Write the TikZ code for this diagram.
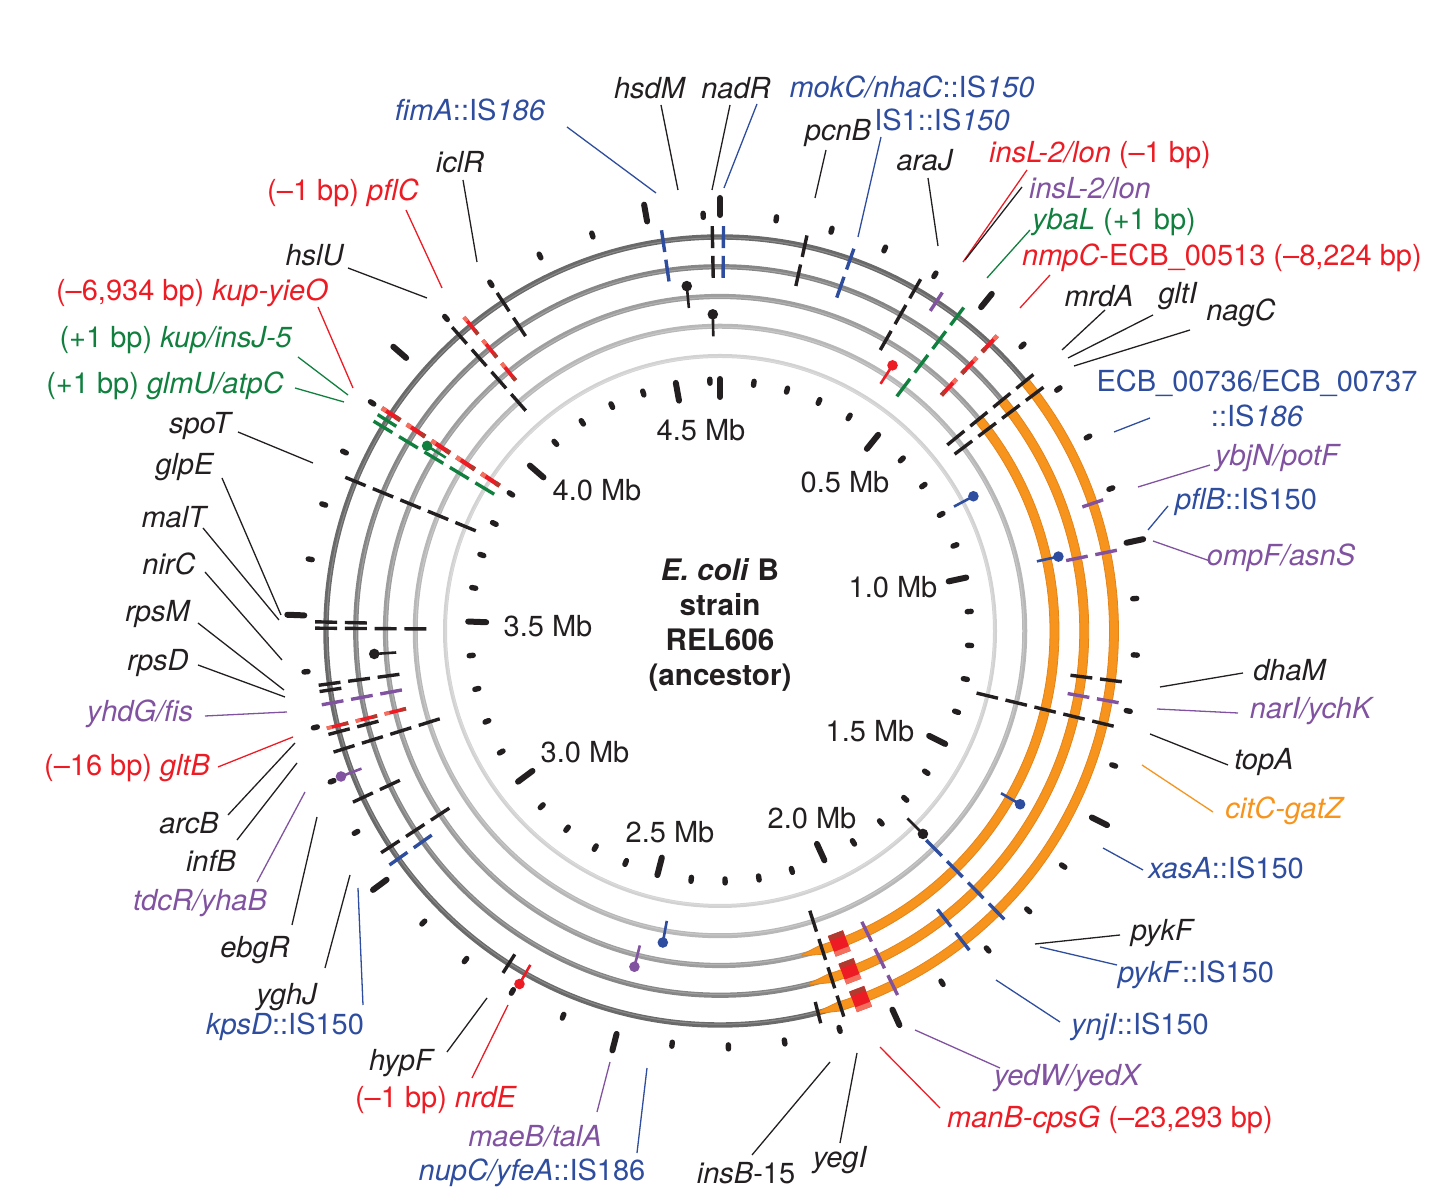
\documentclass[tikz,border=0pt]{standalone}
\usepackage{fontspec}
\setmainfont{TeX Gyre Heros}

\definecolor{genblack}{HTML}{231F20}
\definecolor{genblue}{HTML}{2E4D9E}
\definecolor{genpurple}{HTML}{8052A0}
\definecolor{genred}{HTML}{ED1C24}
\definecolor{gengreen}{HTML}{11803F}
\definecolor{genorange}{HTML}{F7941D}
\definecolor{orangeedge}{HTML}{E3841A}
\definecolor{delinner}{HTML}{B13A2F}
\definecolor{delouter}{HTML}{F4705E}
\definecolor{ringa}{HTML}{6A6A6A}
\definecolor{ringb}{HTML}{868686}
\definecolor{ringc}{HTML}{9E9E9E}
\definecolor{ringd}{HTML}{B8B8B8}
\definecolor{ringe}{HTML}{D2D2D2}

\tikzstyle{lbl} = [font=\fontsize{14.5}{17.5}\selectfont, inner sep=0pt, color=genblack]
\tikzstyle{leadline} = [line width=0.65pt]
\tikzstyle{mutline} = [line width=1.7pt]
\tikzstyle{lolline} = [line width=1.3pt]
\tikzstyle{mbtick} = [line width=3pt, line cap=round, genblack]
\tikzstyle{mbdot} = [line width=2.7pt, line cap=round, genblack]

% dashes on rings 1..#3 : colour, angle (clockwise from top), rings
\newcommand{\mutdash}[3]{%
  \foreach \ri in {1,...,#3} {%
    \pgfmathsetmacro{\rr}{423.75-29.75*\ri}%
    \draw[mutline, #1] ({90-(#2)}:{\rr-11}) -- ({90-(#2)}:{\rr+11});
  }%
}
% deletions: angle, rings, width
\newcommand{\deldash}[3]{%
  \foreach \ri in {1,...,#2} {%
    \pgfmathsetmacro{\rr}{423.75-29.75*\ri}%
    \draw[genred, line width=#3] ({90-(#1)}:{\rr-11}) -- ({90-(#1)}:{\rr+11});
    \draw[delouter, line width=#3] ({90-(#1)}:{\rr+6}) -- ({90-(#1)}:{\rr+11});
    \draw[delinner, line width=#3] ({90-(#1)}:{\rr-11}) -- ({90-(#1)}:{\rr-6});
  }%
}
% single ring marks: colour, angle, ring
\newcommand{\lollipop}[3]{%
  \pgfmathsetmacro{\rr}{423.75-29.75*#3}%
  \draw[lolline, #1] ({90-(#2)}:{\rr-10}) -- ({90-(#2)}:{\rr+12});
  \fill[#1] ({90-(#2)}:{\rr+12}) circle[radius=5.3];
}

\begin{document}
\begin{tikzpicture}[x=0.5pt, y=0.5pt]
  \useasboundingbox (-720,-571) rectangle (734,631);
  \coordinate (ctr) at (0,0);

  % rings
  \foreach \ri/\col/\w in {1/ringa/2.7pt, 2/ringb/2.6pt, 3/ringc/2.6pt, 4/ringd/2.5pt, 5/ringe/2pt} {
    \pgfmathsetmacro{\rr}{423.75-29.75*\ri}
    \draw[\col, line width=\w] (ctr) circle[radius=\rr];
    \draw[white, opacity=0.22, line width=0.5pt] (ctr) circle[radius=\rr-0.8];
  }

  % citC-gatZ inversion
  \foreach \ri in {1,2,3} {
    \pgfmathsetmacro{\rr}{423.75-29.75*\ri}
    \fill[genorange, draw=orangeedge, line width=0.4pt] (39.3:{\rr+4.5})
      arc[start angle=39.3, end angle=-72.5, radius={\rr+4.5}]
      -- (-75.8:{\rr+0.6}) -- (-75.8:{\rr-0.6}) -- (-72.5:{\rr-4.5})
      arc[start angle=-72.5, end angle=39.3, radius={\rr-4.5}] -- cycle;
  }

  % scale ticks, every 0.1 Mb
  \foreach \i in {0,...,46} {
    \pgfmathsetmacro{\a}{90-\i*7.7757}
    \pgfmathtruncatemacro{\m}{mod(\i,5)}
    \ifnum\m=0
      \draw[mbtick] (\a:416) -- (\a:433);
      \draw[mbtick] (\a:234) -- (\a:252);
    \else
      \draw[mbdot] (\a:414) -- (\a:418);
      \draw[mbdot] (\a:248) -- (\a:252);
    \fi
  }
  \foreach \t/\x/\y [count=\j] in {0.5/125/149, 1.0/173/44, 1.5/150/-100, 2.0/92/-187,
      2.5/-50/-201, 3.0/-135/-121, 3.5/-172/5, 4.0/-123/141, 4.5/-19/201} {
    \node[lbl] (mb\j) at (\x,\y) {\t\ Mb};
  }

  \node[lbl, font=\fontsize{14.8}{17.4}\selectfont\bfseries, align=center] (strain) at (0,6)
    {\textit{E. coli} B\\strain\\REL606\\(ancestor)};

  % mutations
  \mutdash{genblue}{351.7}{2}
  \lollipop{genblack}{354.5}{3}
  \mutdash{genblack}{358.9}{2}
  \lollipop{genblack}{358.7}{4}
  \mutdash{genblue}{0.5}{2}
  \mutdash{genblack}{12.4}{2}
  \mutdash{genblue}{19.3}{2}
  \mutdash{genblack}{29.7}{3}
  \lollipop{genred}{33}{4}
  \mutdash{genpurple}{33.3}{1}
  \mutdash{gengreen}{37}{4}
  \deldash{43.2}{3}{2.1pt}
  \mutdash{genblack}{50.7}{4}
  \mutdash{genblack}{53}{4}
  \lollipop{genblue}{62}{5}
  \mutdash{genpurple}{71.1}{1}
  \lollipop{genblue}{77.6}{3}
  \mutdash{genpurple}{78.5}{2}
  \mutdash{genblack}{97.2}{2}
  \mutdash{genpurple}{100.2}{2}
  \mutdash{genblack}{103.6}{5}
  \lollipop{genblue}{120}{3}
  \lollipop{genblack}{135}{5}
  \mutdash{genblue}{135.4}{4}
  \mutdash{genblue}{142}{2}
  \mutdash{genpurple}{154}{3}
  \deldash{159.1}{3}{8pt}
  \mutdash{genblack}{162.2}{4}
  \mutdash{genblack}{165.6}{1}
  \lollipop{genblue}{190.4}{4}
  \lollipop{genpurple}{194.3}{3}
  \lollipop{genred}{209.6}{1}
  \mutdash{genblack}{212.4}{1}
  \mutdash{genblue}{234.7}{2}
  \mutdash{genblack}{236.8}{3}
  \mutdash{genblack}{245}{2}
  \lollipop{genpurple}{249}{1}
  \mutdash{genblack}{252.6}{4}
  \mutdash{genblack}{255.2}{2}
  \deldash{256.1}{3}{1.8pt}
  \mutdash{genpurple}{259.5}{3}
  \mutdash{genblack}{262.3}{3}
  \mutdash{genblack}{261.4}{1}
  \lollipop{genblack}{266.2}{3}
  \mutdash{genblack}{270.4}{4}
  \mutdash{genblack}{271.3}{2}
  \mutdash{genblack}{292.3}{5}
  \mutdash{gengreen}{301.2}{5}
  \mutdash{gengreen}{302.3}{1}
  \lollipop{gengreen}{302.3}{3}
  \deldash{303.4}{5}{2.2pt}
  \mutdash{genblack}{318.6}{4}
  \deldash{320.8}{3}{1.9pt}
  \mutdash{genblack}{326.6}{2}

  % gene labels
  \node[lbl] (hsdM) at (-70,543) {\textit{hsdM}};
  \node[lbl] (nadR) at (16,543) {\textit{nadR}};
  \node[lbl, genblue] (mokC) at (192,544) {\textit{mokC/nhaC}::IS\textit{150}};
  \node[lbl, genblue] (fimA) at (-250,521) {\textit{fimA}::IS\textit{186}};
  \node[lbl] (pcnB) at (118,498) {\textit{pcnB}};
  \node[lbl, genblue] (isone) at (222,511) {IS1::IS\textit{150}};
  \node[lbl] (iclR) at (-260,469) {\textit{iclR}};
  \node[lbl] (araJ) at (205,471) {\textit{araJ}};
  \node[lbl, genred] (insLred) at (380,476) {\textit{insL-2/lon} (\textendash1 bp)};
  \node[lbl, genpurple] (insLpur) at (370,443) {\textit{insL-2/lon}};
  \node[lbl, genred] (pflC) at (-377,438) {(\textendash1 bp) \textit{pflC}};
  \node[lbl, gengreen] (ybaL) at (394,409) {\textit{ybaL} (+1 bp)};
  \node[lbl] (hslU) at (-405,376) {\textit{hslU}};
  \node[lbl, genred] (nmpC) at (502,373) {\textit{nmpC}-ECB\_00513 (\textendash8,224 bp)};
  \node[lbl, genred] (kupyieO) at (-528,338) {(\textendash6,934 bp) \textit{kup-yieO}};
  \node[lbl] (mrdA) at (379,335) {\textit{mrdA}};
  \node[lbl] (gltI) at (458,335) {\textit{gltI}};
  \node[lbl] (nagC) at (521,318) {\textit{nagC}};
  \node[lbl, gengreen] (kupinsJ) at (-544,291) {(+1 bp) \textit{kup/insJ-5}};
  \node[lbl, gengreen] (glmU) at (-555,245) {(+1 bp) \textit{glmU/atpC}};
  \node[lbl, genblue, align=center] (ECB) at (537,233) {ECB\_00736/ECB\_00737\\::IS\textit{186}};
  \node[lbl] (spoT) at (-519,205) {\textit{spoT}};
  \node[lbl, genpurple] (ybjN) at (558,173) {\textit{ybjN/potF}};
  \node[lbl] (glpE) at (-535,164) {\textit{glpE}};
  \node[lbl, genblue] (pflB) at (526,129) {\textit{pflB}::IS150};
  \node[lbl] (malT) at (-545,114) {\textit{malT}};
  \node[lbl, genpurple] (ompF) at (561,73) {\textit{ompF/asnS}};
  \node[lbl] (nirC) at (-551,67) {\textit{nirC}};
  \node[lbl] (rpsM) at (-562,17) {\textit{rpsM}};
  \node[lbl] (rpsD) at (-562,-32) {\textit{rpsD}};
  \node[lbl] (dhaM) at (570,-39) {\textit{dhaM}};
  \node[lbl, genpurple] (yhdG) at (-580,-83) {\textit{yhdG/fis}};
  \node[lbl, genpurple] (narI) at (592,-80) {\textit{narI/ychK}};
  \node[lbl, genred] (gltB) at (-593,-137) {(\textendash16 bp) \textit{gltB}};
  \node[lbl] (topA) at (544,-131) {\textit{topA}};
  \node[lbl] (arcB) at (-531,-192) {\textit{arcB}};
  \node[lbl, genorange] (citC) at (565,-180) {\textit{citC-gatZ}};
  \node[lbl] (infB) at (-509,-230) {\textit{infB}};
  \node[lbl, genblue] (xasA) at (506,-237) {\textit{xasA}::IS150};
  \node[lbl, genpurple] (tdcR) at (-520,-272) {\textit{tdcR/yhaB}};
  \node[lbl] (ebgR) at (-465,-319) {\textit{ebgR}};
  \node[lbl] (pykF) at (443,-302) {\textit{pykF}};
  \node[lbl, genblue] (pykFIS) at (476,-344) {\textit{pykF}::IS150};
  \node[lbl] (yghJ) at (-433,-366) {\textit{yghJ}};
  \node[lbl, genblue] (kpsD) at (-435,-396) {\textit{kpsD}::IS150};
  \node[lbl, genblue] (ynjI) at (420,-396) {\textit{ynjI}::IS150};
  \node[lbl] (hypF) at (-318,-432) {\textit{hypF}};
  \node[lbl, genpurple] (yedW) at (348,-447) {\textit{yedW/yedX}};
  \node[lbl, genred] (nrdE) at (-284,-469) {(\textendash1 bp) \textit{nrdE}};
  \node[lbl, genred] (manB) at (390,-489) {\textit{manB-cpsG} (\textendash23,293 bp)};
  \node[lbl, genpurple] (maeB) at (-185,-505) {\textit{maeB/talA}};
  \node[lbl, genblue] (nupC) at (-188,-542) {\textit{nupC/yfeA}::IS186};
  \node[lbl] (insB) at (26,-542) {\textit{insB}-15};
  \node[lbl] (yegI) at (120,-529) {\textit{yegI}};

  % leader lines
  \foreach \nm/\col/\ax/\ay/\bx/\by in {
      hsdM/genblack/-59/526/-42/441, nadR/genblack/10/526/-8/441,
      mokC/genblue/37/527/4/443, fimA/genblue/-153/504/-64/438,
      pcnB/genblack/106/481/95/433, isone/genblue/161/494/138/394,
      iclR/genblack/-257/451/-243/369, araJ/genblack/208/453/218/385,
      insLred/genred/307/461/243/369, insLpur/genblack/302/444/245/371,
      pflC/genred/-314/421/-278/343, ybaL/gengreen/310/401/267/353,
      hslU/genblack/-372/363/-293/333, nmpC/genred/330/356/300/323,
      kupyieO/genred/-402/324/-367/243, mrdA/genblack/385/321/342/281,
      gltI/genblack/433/316/348/273, nagC/genblack/470/301/354/265,
      kupinsJ/gengreen/-422/274/-372/236, glmU/gengreen/-425/243/-376/229,
      ECB/genblue/430/213/394/199, spoT/genblack/-482/199/-407/168,
      ybjN/genpurple/490/166/418/144, glpE/genblack/-498/153/-439/16,
      pflB/genblue/448/125/428/101, malT/genblack/-517/103/-441/11,
      ompF/genpurple/490/70/433/90, nirC/genblack/-515/59/-438/-29,
      rpsM/genblack/-522/8/-436/-59, rpsD/genblack/-522/-34/-435/-66,
      dhaM/genblack/523/-42/440/-56, yhdG/genpurple/-515/-85/-433/-81,
      narI/genpurple/518/-82/437/-78, gltB/genred/-502/-136/-427/-106,
      topA/genblack/508/-134/430/-103, arcB/genblack/-492/-184/-425/-112,
      citC/genorange/493/-181/422/-134, infB/genblack/-483/-209/-423/-132,
      xasA/genblue/423/-239/383/-217, tdcR/genpurple/-463/-251/-415/-161,
      ebgR/genblack/-428/-294/-403/-186, pykF/genblack/400/-304/315/-313,
      pykFIS/genblue/397/-334/320/-316, yghJ/genblack/-395/-337/-370/-244,
      kpsD/genblue/-357/-374/-362/-257, ynjI/genblue/340/-391/276/-349,
      hypF/genblack/-273/-421/-233/-367, yedW/genpurple/280/-437/195/-399,
      nrdE/genred/-248/-447/-212/-374, manB/genred/220/-477/160/-416,
      maeB/genpurple/-123/-481/-110/-431, nupC/genblue/-83/-522/-73/-437,
      insB/genblack/32/-524/110/-431, yegI/genblack/120/-512/137/-422} {
    \coordinate (\nm-a) at (\ax,\ay);
    \coordinate (\nm-b) at (\bx,\by);
    \draw[leadline, \col] (\nm-a) -- (\nm-b);
  }
\end{tikzpicture}
\end{document}
